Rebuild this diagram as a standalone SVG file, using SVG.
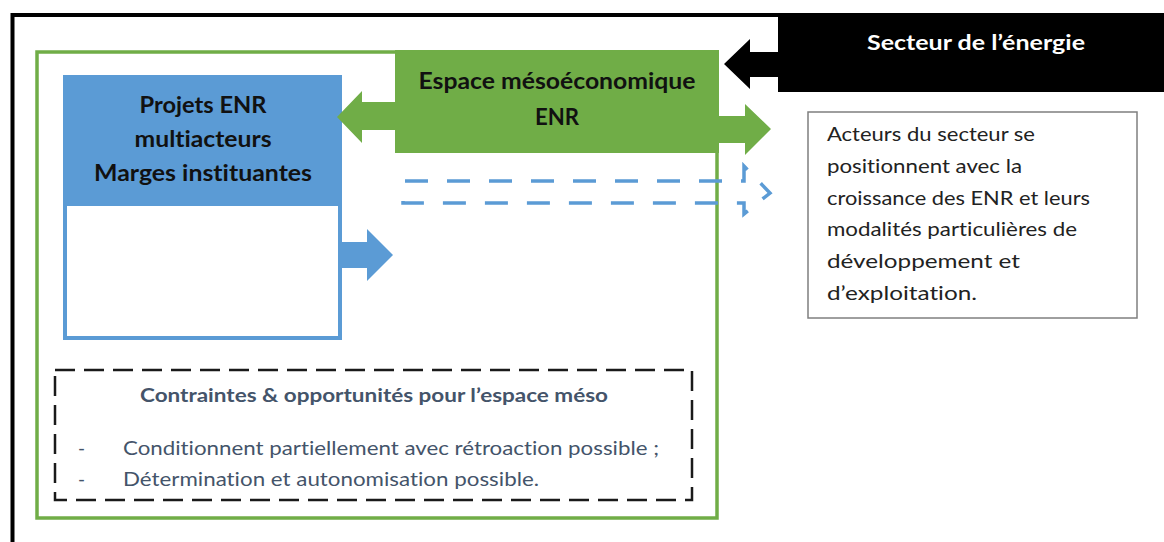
<svg xmlns="http://www.w3.org/2000/svg" width="1164" height="542" viewBox="0 0 1164 542">
  <style>
    .t { font-family: Lato, "Open Sans", "Liberation Sans", sans-serif; font-variant-ligatures: none; font-feature-settings: "liga" 0, "dlig" 0; }
    .b { font-weight: bold; }
    .dark { fill: #111; }
    .slate { fill: #44546A; }
    .body { fill: #222; font-size: 20px; }
  </style>
  <rect width="1164" height="542" fill="#fff"/>

  <g id="frame-outer">
    <path d="M12.5,542 V15 H1164" fill="none" stroke="#000" stroke-width="4"/>
  </g>

  <g id="secteur">
    <rect x="778" y="15" width="386" height="77" fill="#000"/>
    <text class="t b" x="976" y="50" font-size="21" fill="#fff" text-anchor="middle" textLength="218" lengthAdjust="spacingAndGlyphs">Secteur de l’énergie</text>
  </g>

  <g id="frame-green">
    <rect x="37" y="52" width="680" height="466" fill="none" stroke="#70AD47" stroke-width="3.5"/>
  </g>

  <g id="meso">
    <rect x="395" y="50" width="324" height="103" fill="#70AD47"/>
    <text class="t b dark" x="557" y="89" font-size="22" text-anchor="middle" textLength="277" lengthAdjust="spacingAndGlyphs">Espace mésoéconomique</text>
    <text class="t b dark" x="557" y="125" font-size="22" text-anchor="middle" textLength="44" lengthAdjust="spacingAndGlyphs">ENR</text>
  </g>

  <g id="projets">
    <rect x="65" y="77" width="275" height="261" fill="#fff" stroke="#5B9BD5" stroke-width="4"/>
    <rect x="63" y="75" width="279" height="131" fill="#5B9BD5"/>
    <text class="t b dark" x="203" y="113" font-size="22" text-anchor="middle" textLength="127" lengthAdjust="spacingAndGlyphs">Projets ENR</text>
    <text class="t b dark" x="203" y="147" font-size="22" text-anchor="middle" textLength="137" lengthAdjust="spacingAndGlyphs">multiacteurs</text>
    <text class="t b dark" x="203" y="181" font-size="22" text-anchor="middle" textLength="218" lengthAdjust="spacingAndGlyphs">Marges instituantes</text>
  </g>

  <g id="acteurs">
    <rect x="808" y="112" width="329" height="206" fill="#fff" stroke="#7F7F7F" stroke-width="1.5"/>
    <text class="t body" x="827" y="141" textLength="208" lengthAdjust="spacingAndGlyphs">Acteurs du secteur se</text>
    <text class="t body" x="827" y="173" textLength="195" lengthAdjust="spacingAndGlyphs">positionnent avec la</text>
    <text class="t body" x="827" y="205" textLength="263" lengthAdjust="spacingAndGlyphs">croissance des ENR et leurs</text>
    <text class="t body" x="827" y="236" textLength="250" lengthAdjust="spacingAndGlyphs">modalités particulières de</text>
    <text class="t body" x="827" y="268" textLength="193" lengthAdjust="spacingAndGlyphs">développement et</text>
    <text class="t body" x="827" y="300" textLength="150" lengthAdjust="spacingAndGlyphs">d’exploitation.</text>
  </g>

  <g id="contraintes">
    <rect x="55" y="370" width="637" height="130" fill="none" stroke="#1a1a1a" stroke-width="2.5" stroke-dasharray="20 9"/>
    <text class="t b slate" x="374" y="402" font-size="19" text-anchor="middle" textLength="468" lengthAdjust="spacingAndGlyphs">Contraintes &amp; opportunités pour l’espace méso</text>
    <text class="t slate" x="78" y="455" font-size="19">-</text>
    <text class="t slate" x="123" y="455" font-size="19" textLength="536" lengthAdjust="spacingAndGlyphs">Conditionnent partiellement avec rétroaction possible ;</text>
    <text class="t slate" x="78" y="486" font-size="19">-</text>
    <text class="t slate" x="123" y="486" font-size="19" textLength="416" lengthAdjust="spacingAndGlyphs">Détermination et autonomisation possible.</text>
  </g>

  <g id="connectors">
    <polygon points="778,52 750,52 750,39 724,64 750,89 750,77 778,77" fill="#000"/>
    <polygon points="395,102 362,102 362,91 337,117 362,143 362,130 395,130" fill="#70AD47"/>
    <polygon points="719,116 745,116 745,104 771,129 745,155 745,143 719,143" fill="#70AD47"/>
    <polygon points="342,242 367,242 367,229 393,255 367,281 367,268 342,268" fill="#5B9BD5"/>
    <path d="M405,181 H744 V166 L770,193 L744,214 V203 H403 V190" fill="none" stroke="#5B9BD5" stroke-width="3.5" stroke-dasharray="23 19"/>
  </g>
</svg>
